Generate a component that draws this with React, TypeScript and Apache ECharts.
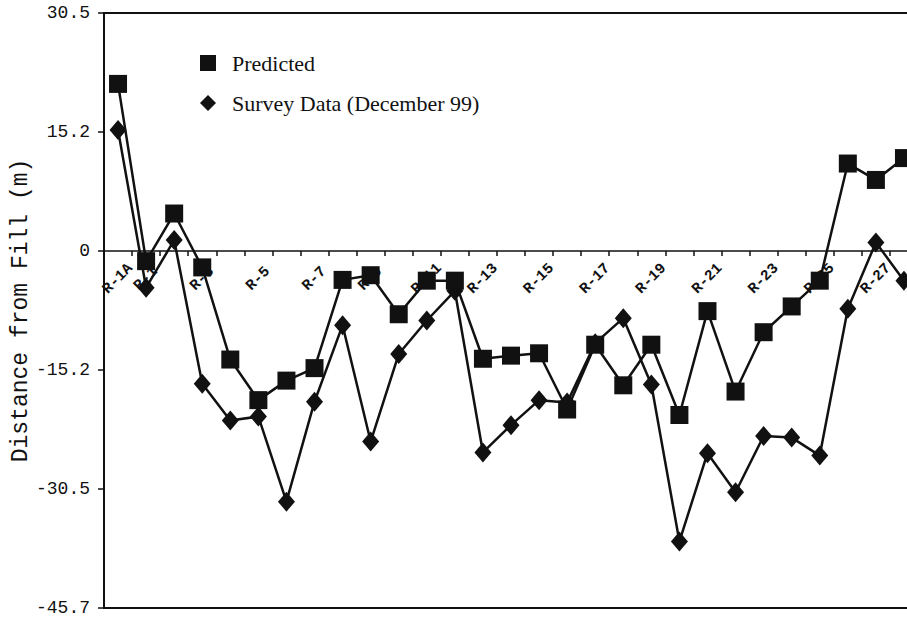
import React, { useEffect, useRef } from "react";
import * as echarts from "echarts";

const categories: string[] = [
  "R-1A", "R-1", "R-2", "R-3", "R-4", "R-5", "R-6", "R-7", "R-8", "R-9",
  "R-10", "R-11", "R-12", "R-13", "R-14", "R-15", "R-16", "R-17", "R-18", "R-19",
  "R-20", "R-21", "R-22", "R-23", "R-24", "R-25", "R-26", "R-27", "R-28",
];

const predicted: number[] = [
  21.4, -1.3, 4.8, -2.1, -13.9, -19.1, -16.6, -15.0, -3.7, -3.1,
  -8.1, -3.8, -3.8, -13.8, -13.4, -13.1, -20.3, -12.0, -17.2, -12.0,
  -21.0, -7.7, -18.0, -10.4, -7.1, -3.8, 11.2, 9.1, 11.9,
];

const survey: number[] = [
  15.5, -4.7, 1.4, -17.0, -21.7, -21.2, -32.1, -19.3, -9.5, -24.4,
  -13.2, -8.9, -5.1, -25.8, -22.3, -19.1, -19.4, -11.8, -8.6, -17.1,
  -37.2, -25.9, -30.9, -23.7, -23.9, -26.2, -7.4, 1.1, -3.8,
];

const yMin = -45.72;
const yMax = 30.48;
const yInterval = 15.24;

const seriesNames = ["Predicted", "Survey Data (December 99)"];

export default function App() {
  const ref = useRef<HTMLDivElement>(null);

  useEffect(() => {
    if (!ref.current) return;
    const chart = echarts.init(ref.current, null, { renderer: "svg" });
    const mono = "'Liberation Mono', 'DejaVu Sans Mono', monospace";
    const gridTop = 13;
    const gridBottom = 9;
    const plotH = 617 - gridTop - gridBottom;
    const zeroFromBottom = (0 - yMin) / (yMax - yMin) * plotH;
    chart.setOption({
      animation: false,
      backgroundColor: "#ffffff",
      grid: {
        left: 104,
        top: gridTop,
        bottom: gridBottom,
        right: -11,
        show: true,
        borderColor: "#111",
        borderWidth: 2,
        containLabel: false,
        outerBoundsMode: "none",
      },
      legend: {
        orient: "vertical",
        left: 200,
        top: 52,
        padding: 0,
        itemWidth: 16,
        itemHeight: 16,
        itemGap: 18,
        data: [
          { name: seriesNames[0], icon: "rect" },
          { name: seriesNames[1], icon: "diamond" },
        ],
        textStyle: {
          fontFamily: "'Liberation Serif', 'Times New Roman', serif",
          fontSize: 22,
          color: "#111",
          padding: [0, 0, 0, 11],
        },
      },
      xAxis: {
        type: "category",
        data: categories,
        boundaryGap: true,
        offset: -zeroFromBottom,
        axisLine: { onZero: false, lineStyle: { color: "#111", width: 1.5 } },
        axisTick: { show: true, interval: 0, length: 5, lineStyle: { color: "#111", width: 1.5 } },
        axisLabel: {
          interval: (index: number) => index === 0 || index % 2 === 1,
          rotate: 45,
          align: "center",
          verticalAlign: "middle",
          margin: 28,
          fontFamily: mono,
          fontWeight: "bold",
          fontSize: 15,
          color: "#111",
        },
        splitLine: { show: false },
      },
      yAxis: {
        type: "value",
        min: yMin,
        max: yMax,
        interval: yInterval,
        name: "Distance from Fill (m)",
        nameLocation: "middle",
        nameRotate: 90,
        nameGap: 72,
        nameMoveOverlap: false,
        nameTextStyle: { fontFamily: mono, fontSize: 23, color: "#111" },
        axisLine: { show: true, lineStyle: { color: "#111", width: 2 } },
        axisTick: { show: true, length: 6, lineStyle: { color: "#111", width: 1.5 } },
        axisLabel: {
          fontFamily: mono,
          fontSize: 18,
          color: "#111",
          margin: 14,
          formatter: (v: number) => (Math.abs(v) < 1e-6 ? "0" : v.toFixed(1)),
        },
        splitLine: { show: false },
      },
      series: [
        {
          name: seriesNames[0],
          type: "line",
          data: predicted,
          symbol: "rect",
          symbolSize: 18,
          showSymbol: true,
          showAllSymbol: true,
          itemStyle: { color: "#111" },
          lineStyle: { color: "#111", width: 2.5 },
          z: 3,
        },
        {
          name: seriesNames[1],
          type: "line",
          data: survey,
          symbol: "diamond",
          symbolSize: [17, 20],
          showSymbol: true,
          showAllSymbol: true,
          itemStyle: { color: "#111" },
          lineStyle: { color: "#111", width: 2.5 },
          z: 2,
        },
      ],
    });
    return () => chart.dispose();
  }, []);

  return (
    <div
      ref={ref}
      style={{ position: "absolute", left: 0, top: 0, width: 907, height: 617 }}
    />
  );
}
